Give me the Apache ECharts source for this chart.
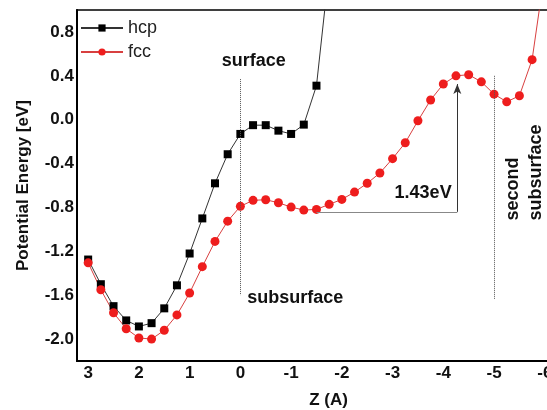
<!DOCTYPE html>
<html><head><meta charset="utf-8">
<script src="https://cdn.jsdelivr.net/npm/echarts@6/dist/echarts.min.js"></script>
<style>html,body{margin:0;padding:0;background:#fff}#c{width:547px;height:410px}</style>
</head><body><div id="c"></div>
<script>
// Z positions (Å) and potential energies (eV)
const zHcp = [3.0, 2.75, 2.5, 2.25, 2.0, 1.75, 1.5, 1.25, 1.0, 0.75, 0.5, 0.25, 0.0, -0.25, -0.5, -0.75, -1.0, -1.25, -1.5, -1.75];
const eHcp = [-1.275, -1.50, -1.70, -1.83, -1.885, -1.855, -1.72, -1.51, -1.22, -0.90, -0.58, -0.315, -0.13, -0.05, -0.05, -0.10, -0.13, -0.045, 0.31, 1.37];
const zFcc = [3.0, 2.75, 2.5, 2.25, 2.0, 1.75, 1.5, 1.25, 1.0, 0.75, 0.5, 0.25, 0.0, -0.25, -0.5, -0.75, -1.0, -1.25, -1.5, -1.75, -2.0, -2.25, -2.5, -2.75, -3.0, -3.25, -3.5, -3.75, -4.0, -4.25, -4.5, -4.75, -5.0, -5.25, -5.5, -5.75, -6.0];
const eFcc = [-1.305, -1.55, -1.76, -1.906, -1.99, -2.0, -1.92, -1.78, -1.58, -1.34, -1.11, -0.925, -0.79, -0.735, -0.73, -0.757, -0.797, -0.824, -0.818, -0.772, -0.727, -0.66, -0.58, -0.486, -0.355, -0.21, -0.01, 0.18, 0.325, 0.40, 0.41, 0.345, 0.233, 0.163, 0.218, 0.547, 1.35];
const yTicks = [-2.0, -1.6, -1.2, -0.8, -0.4, 0.0, 0.4, 0.8];
const xTicks = [3, 2, 1, 0, -1, -2, -3, -4, -5, -6];
const seriesNames = ['hcp', 'fcc'];
const barrierLabel = '1.43eV';

const FONT = "'Liberation Sans', Arial, sans-serif";
const chart = echarts.init(document.getElementById('c'), null, {renderer: 'canvas'});
const pairs = (zs, es) => zs.map((z, i) => [z, es[i]]);

chart.setOption({
  animation: false,
  backgroundColor: '#fff',
  grid: {left: 77, top: 10, width: 483, height: 351, containLabel: false, outerBoundsMode: 'none', show: true, borderColor: '#000', borderWidth: 1.5, backgroundColor: 'transparent'},
  legend: {
    orient: 'vertical', left: 80, top: 19, padding: 0, itemWidth: 42, itemHeight: 9, itemGap: 6,
    textStyle: {fontFamily: FONT, fontSize: 18, color: '#222'},
    data: seriesNames
  },
  xAxis: {
    type: 'value', inverse: true, min: -6.3, max: 3.22,
    name: 'Z (A)', nameLocation: 'middle', nameGap: 31,
    nameTextStyle: {fontFamily: FONT, fontSize: 17, fontWeight: 'bold', color: '#111', padding: [0, 0, 0, 20]},
    axisLine: {show: true, onZero: false, lineStyle: {color: '#000', width: 2}},
    axisTick: {show: false},
    splitLine: {show: false},
    axisLabel: {customValues: xTicks, margin: 4, fontFamily: FONT, fontSize: 17, fontWeight: 'bold', color: '#111', formatter: v => String(Math.round(v))}
  },
  yAxis: {
    type: 'value', min: -2.2, max: 1.0,
    name: 'Potential Energy [eV]', nameLocation: 'middle', nameRotate: 90, nameGap: 45,
    nameTextStyle: {fontFamily: FONT, fontSize: 17, fontWeight: 'bold', color: '#111'},
    axisLine: {show: true, onZero: false, lineStyle: {color: '#000', width: 2}},
    axisTick: {show: false},
    splitLine: {show: false},
    axisLabel: {customValues: yTicks, margin: 3, fontFamily: FONT, fontSize: 17, fontWeight: 'bold', color: '#111', formatter: v => v.toFixed(1)}
  },
  series: [
    {
      name: seriesNames[0], type: 'line', data: pairs(zHcp, eHcp), clip: true,
      symbol: 'rect', symbolSize: 8,
      itemStyle: {color: '#000'}, lineStyle: {color: '#333', width: 1}
    },
    {
      name: seriesNames[1], type: 'line', data: pairs(zFcc, eFcc), clip: true,
      symbol: 'circle', symbolSize: 9,
      itemStyle: {color: '#ee1d1d'}, lineStyle: {color: '#d84040', width: 1},
      markLine: {
        silent: true, animation: false, symbol: 'none', symbolSize: [6, 10],
        label: {show: false},
        lineStyle: {type: 'dotted', color: '#555', width: 1},
        data: [
          [{coord: [0, 0.37]}, {coord: [0, -1.6]}],
          [{coord: [-5, 0.40]}, {coord: [-5, -1.64]}],
          [{coord: [-1.5, -0.84], lineStyle: {type: 'solid', color: '#888', width: 1}}, {coord: [-4.276, -0.84]}],
          [{coord: [-4.276, -0.84], lineStyle: {type: 'solid', color: '#333', width: 1}}, {coord: [-4.276, 0.325], symbol: 'arrow'}]
        ]
      }
    }
  ]
});

// text annotations placed in data coordinates
const notes = [
  {text: 'surface', at: [-0.266, 0.535], align: 'center', rot: 0},
  {text: 'subsurface', at: [-1.083, -1.627], align: 'center', rot: 0},
  {text: barrierLabel, at: [-3.602, -0.672], align: 'center', rot: 0},
  {text: 'second', at: [-5.37, -0.919], align: 'left', rot: Math.PI / 2},
  {text: 'subsurface', at: [-5.83, -0.919], align: 'left', rot: Math.PI / 2}
];
const graphic = notes.map(n => {
  const p = chart.convertToPixel({gridIndex: 0}, n.at);
  return {
    type: 'text', x: p[0], y: p[1], rotation: n.rot, z: 100,
    style: {text: n.text, fontFamily: FONT, fontSize: 18, fontWeight: 'bold', fill: '#111', align: n.align, verticalAlign: 'middle'}
  };
});
chart.setOption({graphic: graphic});
</script>
</body></html>
